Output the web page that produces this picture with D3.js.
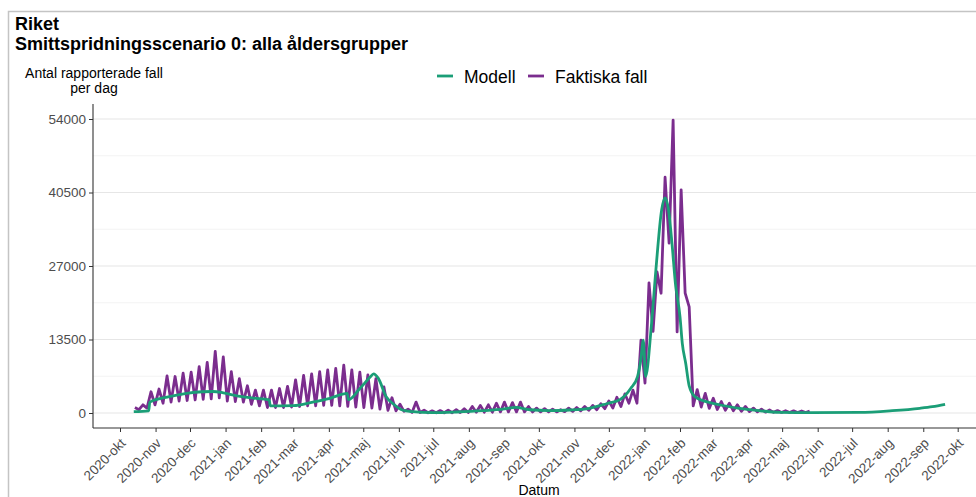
<!DOCTYPE html>
<html>
<head>
<meta charset="utf-8">
<script src="https://cdn.jsdelivr.net/npm/d3@7"></script>
<style>
  body { margin: 0; background: #fff; }
  svg { display: block; font-family: "Liberation Sans", Arial, sans-serif; }
</style>
</head>
<body>
<div id="chart"></div>
<script>
// Faktiska fall: en topp mitt i veckan och en dal 3,5 dagar senare, vecka för vecka
var faktiskaStart = '2020-10-14'
var faktiskaHog = [
  1000, 1500, 3900, 4400, 6800, 6700, 7300, 7500, 8500, 9300,
  11300, 10300, 7600, 6300, 5000, 4200, 4200, 4200, 4500, 4900,
  6100, 6900, 7200, 7600, 7900, 8200, 8800, 7900, 7500, 7000,
  6300, 4800, 2800, 1600, 700, 2000, 500, 400, 450, 500,
  600, 800, 1200, 1400, 1500, 1800, 2000, 1900, 2000, 1200,
  900, 800, 700, 600, 900, 1000, 1200, 1400, 1700, 2200,
  2900, 3500, 4200, 13400, 23900, 25900, 43300, 53800, 41000, 19500,
  4300, 3600, 2700, 2100, 1800, 1500, 1200, 900, 700, 550,
  450, 430, 400, 370, 350
]
var faktiskaLag = [
  600, 900, 1500, 1800, 2000, 2200, 2300, 2400, 2500, 2600,
  2800, 2200, 2100, 2000, 1600, 1300, 1000, 1000, 1000, 1100,
  1200, 1300, 1300, 1400, 1400, 1300, 1200, 1100, 1000, 900,
  700, 500, 400, 300, 100, 100, 50, 50, 50, 50,
  80, 100, 150, 150, 150, 200, 200, 200, 200, 200,
  200, 200, 200, 250, 300, 400, 500, 600, 800, 900,
  1200, 1800, 1800, 5500, 15000, 22000, 31200, 14900, 22000, 1300,
  1100, 850, 650, 500, 400, 300, 250, 200, 150, 120,
  100, 100, 100, 100
]

// Modell
var modellDatum = [
  '2020-10-13', '2020-10-26', '2020-10-27', '2020-11-13', '2020-11-28', '2020-12-12',
  '2020-12-21', '2020-12-30', '2021-01-10', '2021-01-25', '2021-02-08', '2021-02-09',
  '2021-03-01', '2021-03-18', '2021-04-02', '2021-04-17', '2021-04-18', '2021-04-28',
  '2021-05-07', '2021-05-10', '2021-05-14', '2021-05-21', '2021-05-27', '2021-06-04',
  '2021-06-13', '2021-06-30', '2021-07-21', '2021-08-13', '2021-09-01', '2021-09-11',
  '2021-09-23', '2021-10-10', '2021-10-28', '2021-11-14', '2021-11-29', '2021-12-11',
  '2021-12-20', '2021-12-26', '2021-12-29', '2021-12-31', '2022-01-02', '2022-01-07',
  '2022-01-11', '2022-01-16', '2022-01-19', '2022-01-22', '2022-01-25', '2022-01-28',
  '2022-02-01', '2022-02-03', '2022-02-06', '2022-02-09', '2022-02-14', '2022-02-24',
  '2022-03-08', '2022-03-25', '2022-04-11', '2022-04-29', '2022-05-27', '2022-07-07',
  '2022-08-05', '2022-08-29', '2022-09-09', '2022-09-20'
]
var modellFall = [
  240, 400, 2000, 3000, 3600, 3900,
  3950, 3700, 3200, 2750, 2400, 1300,
  1350, 2000, 2700, 3600, 2450, 4500,
  6600, 7200, 6400, 3000, 1700, 550,
  240, 60, 180, 420, 750, 1050,
  600, 450, 550, 860, 1700, 2500,
  4500, 6700, 10000, 13400, 6700, 15900,
  26300, 37300, 39500, 37300, 31200, 23800,
  17700, 12800, 9100, 5000, 3000, 2080,
  1470, 860, 420, 130, 60, 100,
  420, 860, 1160, 1600
]

var yTicks = [0, 13500, 27000, 40500, 54000]
var yMinor = [6750, 20250, 33750, 47250]
var manader = ['jan', 'feb', 'mar', 'apr', 'maj', 'jun', 'jul', 'aug', 'sep', 'okt', 'nov', 'dec']

var serier = [
  {namn: 'Modell', color: '#1b9e77'},
  {namn: 'Faktiska fall', color: '#7b2d8e'}
]

var parse = d3.timeParse('%Y-%m-%d')

var faktiska = []
faktiskaHog.forEach(function(v, i){
  var d = d3.timeDay.offset(parse(faktiskaStart), 7 * i)
  faktiska.push({date: d, value: v})
  if (i < faktiskaLag.length) {
    faktiska.push({date: new Date(+d + 3.5 * 864e5), value: faktiskaLag[i]})
  }
})
var modell = modellDatum.map(function(d, i){ return {date: parse(d), value: modellFall[i]} })

var W = 976, H = 497
var svg = d3.select('#chart').append('svg').attr('width', W).attr('height', H)

// ram
svg.append('rect')
  .attr('x', 8.5).attr('y', 11.5).attr('width', 1200).attr('height', 800)
  .attr('fill', 'none').attr('stroke', '#c4c4c4').attr('stroke-width', 1.5)

var pLeft = 93, pRight = 985, pTop = 104, pBottom = 428

var x = d3.scaleTime()
  .domain([parse('2020-10-01'), parse('2022-10-01')])
  .range([120, 957.7])
var y = d3.scaleLinear().domain([0, 54000]).range([413, 119])

// rutnät
svg.append('g').selectAll('line').data(yMinor).join('line')
  .attr('x1', pLeft).attr('x2', pRight)
  .attr('y1', y).attr('y2', y)
  .attr('stroke', '#f3f3f3').attr('stroke-width', 1)
svg.append('g').selectAll('line').data(yTicks).join('line')
  .attr('x1', pLeft).attr('x2', pRight)
  .attr('y1', y).attr('y2', y)
  .attr('stroke', '#e6e6e6').attr('stroke-width', 1.1)

// linjer
var line = d3.line().x(function(d){ return x(d.date) }).y(function(d){ return y(d.value) })

svg.append('path').datum(faktiska)
  .attr('d', line)
  .attr('fill', 'none').attr('stroke', serier[1].color)
  .attr('stroke-width', 2.8).attr('stroke-linejoin', 'round')

svg.append('path').datum(modell)
  .attr('d', line.curve(d3.curveMonotoneX))
  .attr('fill', 'none').attr('stroke', serier[0].color)
  .attr('stroke-width', 2.8).attr('stroke-linejoin', 'round')

// y-axel
var yAxis = d3.axisLeft(y).tickValues(yTicks).tickSize(4).tickPadding(3).tickFormat(d3.format('d'))
var yg = svg.append('g').attr('transform', 'translate(' + pLeft + ',0)').call(yAxis)
yg.select('.domain').remove()
yg.append('line').attr('y1', pTop).attr('y2', pBottom).attr('stroke', '#333').attr('stroke-width', 1.1)
yg.selectAll('.tick line').attr('stroke', '#333')
yg.selectAll('.tick text').attr('fill', '#4d4d4d').style('font-size', '13.5px')
  .style('font-family', '"Liberation Sans", Arial, sans-serif')

// x-axel
var xAxis = d3.axisBottom(x).ticks(d3.timeMonth.every(1)).tickSize(4)
  .tickFormat(function(d){ return d.getFullYear() + '-' + manader[d.getMonth()] })
var xg = svg.append('g').attr('transform', 'translate(0,' + pBottom + ')').call(xAxis)
xg.select('.domain').remove()
xg.append('line').attr('x1', pLeft).attr('x2', pRight).attr('stroke', '#333').attr('stroke-width', 1.1)
xg.selectAll('.tick line').attr('stroke', '#333')
xg.selectAll('.tick text')
  .attr('fill', '#4d4d4d').style('font-size', '13.5px')
  .style('font-family', '"Liberation Sans", Arial, sans-serif')
  .attr('text-anchor', 'end')
  .attr('y', 0).attr('dy', 0)
  .attr('transform', 'translate(6,16) rotate(-45)')

// titlar
svg.append('text').attr('x', 15).attr('y', 30)
  .style('font-size', '18px').style('font-weight', 'bold').attr('fill', '#000')
  .text('Riket')
svg.append('text').attr('x', 15).attr('y', 50)
  .style('font-size', '18px').style('font-weight', 'bold').attr('fill', '#000')
  .text('Smittspridningsscenario 0: alla åldersgrupper')

svg.append('text').attr('x', 94).attr('y', 78).attr('text-anchor', 'middle')
  .style('font-size', '14px').attr('fill', '#000')
  .text('Antal rapporterade fall')
svg.append('text').attr('x', 94).attr('y', 93).attr('text-anchor', 'middle')
  .style('font-size', '14px').attr('fill', '#000')
  .text('per dag')

svg.append('text').attr('x', (pLeft + pRight) / 2).attr('y', 495).attr('text-anchor', 'middle')
  .style('font-size', '14px').attr('fill', '#000')
  .text('Datum')

// legend
var legX = [437, 528]
var leg = svg.append('g').selectAll('g').data(serier).join('g')
  .attr('transform', function(d, i){ return 'translate(' + legX[i] + ',76)' })
leg.append('line').attr('x1', 0).attr('x2', 16)
  .attr('stroke', function(d){ return d.color }).attr('stroke-width', 2.8)
leg.append('text').attr('x', 27).attr('y', 6.5)
  .style('font-size', '17.5px').attr('fill', '#000')
  .text(function(d){ return d.namn })
</script>
</body>
</html>
